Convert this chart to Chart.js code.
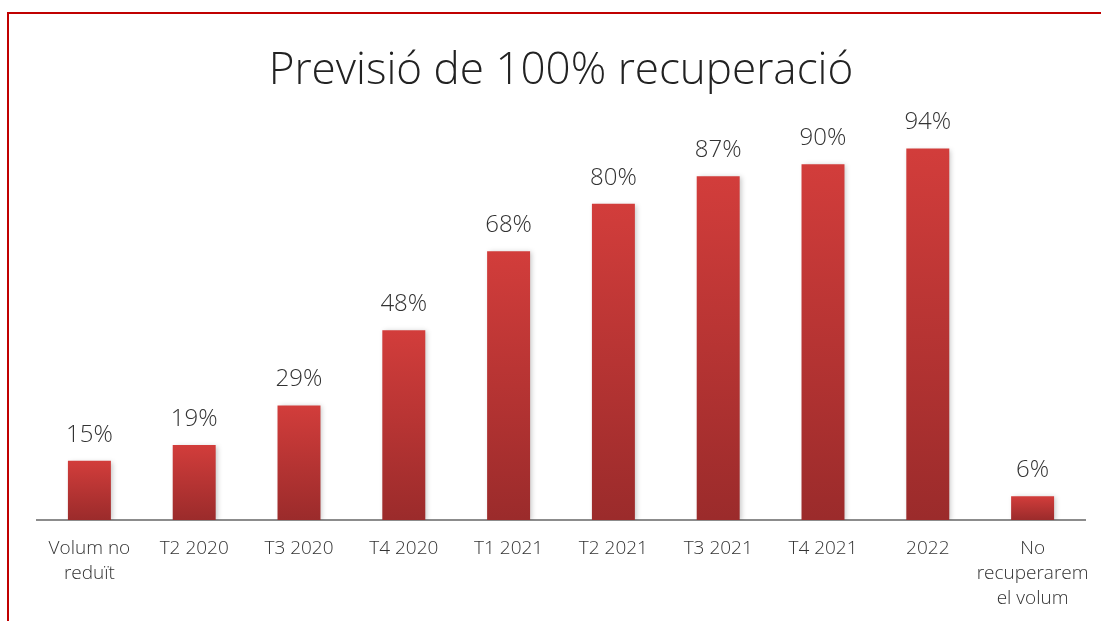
<!DOCTYPE html>
<html>
<head>
<meta charset="utf-8">
<script src="https://cdn.jsdelivr.net/npm/chart.js@4"></script>
<style>
  html, body { margin: 0; padding: 0; background: #fff; }
  #wrap { position: relative; width: 1101px; height: 621px; }
  #frame { position: absolute; left: 7px; top: 12px; right: 0; bottom: 0;
           border-top: 2px solid #c00000; border-left: 2px solid #c00000; }
  canvas { position: absolute; left: 0; top: 0; }
</style>
</head>
<body>
<div id="wrap">
  <div id="frame"></div>
  <canvas id="myChart" width="1101" height="621"></canvas>
</div>
<script>
const categories = [
  ['Volum no', 'reduït'], 'T2 2020', 'T3 2020', 'T4 2020', 'T1 2021',
  'T2 2021', 'T3 2021', 'T4 2021', '2022', ['No', 'recuperarem', 'el volum']
];
const recovery = [15, 19, 29, 48, 68, 80, 87, 90, 94, 6];

const FONT = "'Open Sans', 'DejaVu Sans', sans-serif";

// gradient per bar, lighter at the top
function barFill(context) {
  const chart = context.chart;
  const y = chart.scales.y;
  if (!chart.chartArea || !y) return '#c23634';
  const top = y.getPixelForValue(context.raw);
  const base = y.getPixelForValue(0);
  if (!isFinite(top) || top === base) return '#c23634';
  const g = chart.ctx.createLinearGradient(0, top, 0, base);
  g.addColorStop(0, '#d23d3b');
  g.addColorStop(1, '#9b2b2b');
  return g;
}

const barShadow = {
  id: 'barShadow',
  beforeDatasetDraw(chart) {
    const ctx = chart.ctx;
    ctx.save();
    ctx.shadowColor = 'rgba(0,0,0,0.22)';
    ctx.shadowBlur = 5;
    ctx.shadowOffsetX = 2;
    ctx.shadowOffsetY = 1;
  },
  afterDatasetDraw(chart) {
    chart.ctx.restore();
  }
};

const valueLabels = {
  id: 'valueLabels',
  afterDatasetsDraw(chart) {
    const ctx = chart.ctx;
    const meta = chart.getDatasetMeta(0);
    ctx.save();
    ctx.font = '300 24px ' + FONT;
    ctx.fillStyle = '#333';
    ctx.textAlign = 'center';
    ctx.textBaseline = 'middle';
    meta.data.forEach((bar, i) => {
      ctx.fillText(recovery[i] + '%', bar.x, bar.y - 26);
    });
    ctx.restore();
  }
};

const ctx = document.getElementById('myChart').getContext('2d');
new Chart(ctx, {
  type: 'bar',
  data: {
    labels: categories,
    datasets: [{
      data: recovery,
      backgroundColor: barFill,
      barPercentage: 0.41,
      categoryPercentage: 1
    }]
  },
  options: {
    responsive: false,
    animation: false,
    layout: { padding: { left: 37, right: 16, top: 0, bottom: 0 } },
    plugins: {
      legend: { display: false },
      tooltip: { enabled: false },
      title: {
        display: true,
        text: 'Previsió de 100% recuperació',
        color: '#222',
        font: { family: FONT, size: 44, weight: '300', lineHeight: 1.2 },
        padding: { top: 45, bottom: 27 }
      }
    },
    scales: {
      x: {
        grid: { display: false, drawTicks: false },
        border: { display: true, color: '#8c8c8c', width: 2 },
        ticks: {
          color: '#333',
          font: { family: FONT, size: 19, weight: '300', lineHeight: 1.32 },
          padding: 16,
          maxRotation: 0,
          autoSkip: false
        },
        // fixed axis band below the bars, no extra side padding for long labels
        afterFit(scale) {
          scale.paddingLeft = 0;
          scale.paddingRight = 0;
          scale.height = 101;
        }
      },
      y: {
        display: false,
        min: 0,
        max: 100
      }
    }
  },
  plugins: [barShadow, valueLabels]
});
</script>
</body>
</html>
